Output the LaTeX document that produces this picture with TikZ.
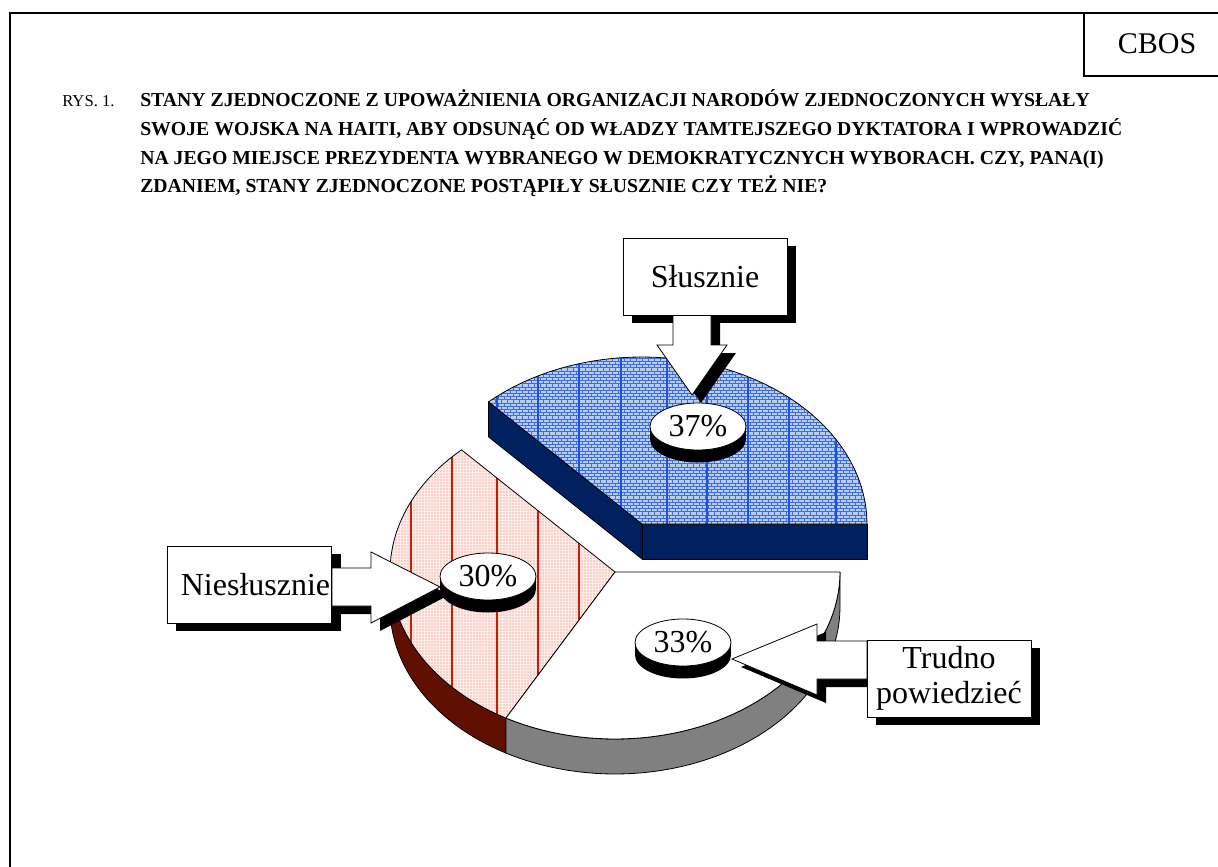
\documentclass[tikz,border=0pt]{standalone}
\usepackage{fontspec}
\setmainfont{Liberation Serif}
\usetikzlibrary{patterns,shapes.geometric}

\definecolor{navyside}{RGB}{0,32,96}
\definecolor{maroonside}{RGB}{96,16,0}
\definecolor{greyside}{RGB}{128,128,128}
\definecolor{bluetop}{RGB}{185,205,242}
\definecolor{bluebrick}{RGB}{60,110,225}
\definecolor{bluerule}{RGB}{30,80,230}
\definecolor{pinktop}{RGB}{253,236,232}
\definecolor{pinkdot}{RGB}{238,115,105}
\definecolor{redrule}{RGB}{200,30,0}

\pgfdeclarepatternformonly{tinybricks}{\pgfqpoint{-0.5pt}{-0.5pt}}{\pgfqpoint{5pt}{5.3pt}}{\pgfqpoint{4.5pt}{4.8pt}}{
  \pgfsetlinewidth{0.7pt}
  \pgfpathmoveto{\pgfqpoint{0pt}{0pt}}\pgfpathlineto{\pgfqpoint{4.5pt}{0pt}}
  \pgfpathmoveto{\pgfqpoint{0pt}{2.4pt}}\pgfpathlineto{\pgfqpoint{4.5pt}{2.4pt}}
  \pgfpathmoveto{\pgfqpoint{0pt}{0pt}}\pgfpathlineto{\pgfqpoint{0pt}{2.4pt}}
  \pgfpathmoveto{\pgfqpoint{2.25pt}{2.4pt}}\pgfpathlineto{\pgfqpoint{2.25pt}{4.8pt}}
  \pgfusepath{stroke}}
\pgfdeclarepatternformonly{tinydots}{\pgfqpoint{-0.5pt}{-0.5pt}}{\pgfqpoint{2.8pt}{2.8pt}}{\pgfqpoint{2.25pt}{2.25pt}}{
  \pgfpathcircle{\pgfqpoint{0pt}{0pt}}{0.4pt}
  \pgfusepath{fill}}

\begin{document}
\begin{tikzpicture}[x=0.75pt, y=-0.75pt, variable=\t, samples=50,
  rim/.style={line width=0.6pt},
  dropshade/.style={fill=black, shift={(9,8)}},
  labelbox/.style={draw, fill=white, line width=0.6pt, minimum width=123pt, minimum height=57.75pt, inner sep=0pt, align=center, font=\fontsize{24}{26.25}\selectfont},
  disc/.style={ellipse, draw, fill=white, line width=0.6pt, minimum width=72pt, minimum height=35.25pt, inner sep=0pt, font=\fontsize{24}{26}\selectfont},
  question/.style={anchor=base west, inner sep=0pt, font=\fontsize{14.8}{17}\selectfont\bfseries}]
\useasboundingbox (0,0) rectangle (1218,867);
\fill[white] (0,0) rectangle (1218,867);

% frame and CBOS box
\draw[line width=1.5pt] (10,867) -- (10,13) -- (1218,13);
\draw[line width=1.5pt] (1084,13) -- (1084,76) -- (1218,76);
\node[font=\fontsize{22.5}{26}\selectfont] (cbos) at (1157,44) {CBOS};

% title
\node[anchor=base west, inner sep=0pt, font=\fontsize{12.5}{15}\selectfont] (rys) at (62,107) {RYS. 1.};
\foreach \txt [count=\i] in {{STANY ZJEDNOCZONE Z UPOWAŻNIENIA ORGANIZACJI NARODÓW ZJEDNOCZONYCH WYSŁAŁY},
  {SWOJE WOJSKA NA HAITI, ABY ODSUNĄĆ OD WŁADZY TAMTEJSZEGO DYKTATORA I WPROWADZIĆ},
  {NA JEGO MIEJSCE PREZYDENTA WYBRANEGO W DEMOKRATYCZNYCH WYBORACH. CZY, PANA(I)},
  {ZDANIEM, STANY ZJEDNOCZONE POSTĄPIŁY SŁUSZNIE CZY TEŻ NIE?}}
  \node[question] (q\i) at (140,{107+28.5*(\i-1)}) {\txt};

% pie: sides
\filldraw[rim, fill=maroonside] plot[domain=180:241] ({615+225*cos(\t)},{572-167*sin(\t)})
  -- plot[domain=241:180] ({615+225*cos(\t)},{607-167*sin(\t)}) -- cycle;
\filldraw[rim, fill=greyside] plot[domain=241:360] ({615+225*cos(\t)},{572-167*sin(\t)})
  -- plot[domain=360:241] ({615+225*cos(\t)},{607-167*sin(\t)}) -- cycle;

% pie: Niesłusznie
\filldraw[rim, pattern=tinydots, pattern color=pinkdot, preaction={fill=pinktop},
  path picture={\foreach \x in {411,452,497,538,579} \draw[redrule, line width=0.8pt] (\x,380) -- (\x,760);}]
  (615,572) -- plot[domain=133:241] ({615+225*cos(\t)},{572-167*sin(\t)}) -- cycle;

% pie: Trudno powiedzieć
\filldraw[rim, fill=white] (615,572) -- plot[domain=241:360] ({615+225*cos(\t)},{572-167*sin(\t)}) -- cycle;

% pie: Słusznie (pulled out)
\filldraw[rim, fill=navyside] (642,524) rectangle (867,559);
\filldraw[rim, fill=navyside] ({642+225*cos(133)},{524-167*sin(133)}) -- (642,524) -- (642,559)
  -- ({642+225*cos(133)},{559-167*sin(133)}) -- cycle;
\filldraw[rim, pattern=tinybricks, pattern color=bluebrick, preaction={fill=bluetop},
  path picture={\foreach \x in {497,538,579,621,667,707,748,789,836} \draw[bluerule, line width=0.8pt] (\x,340) -- (\x,530);}]
  (642,524) -- plot[domain=0:133] ({642+225*cos(\t)},{524-167*sin(\t)}) -- cycle;

% shadows of the callouts
\fill[dropshade] (623,238) rectangle (787,315);
\fill[dropshade] (167,546) rectangle (332,623);
\fill[dropshade] (867,640) rectangle (1031,717);
\fill[dropshade] (673,315) -- (673,345) -- (657,345) -- (692,395) -- (727,345) -- (711,345) -- (711,315) -- cycle;
\fill[dropshade] (332,568) -- (371,568) -- (371,552) -- (440,587) -- (371,623) -- (371,606) -- (332,606) -- cycle;
\fill[dropshade] (867,641) -- (817,641) -- (817,624) -- (732,659) -- (817,695) -- (817,679) -- (867,679) -- cycle;

% block arrows
\filldraw[rim, fill=white] (673,315) -- (673,345) -- (657,345) -- (692,395) -- (727,345) -- (711,345) -- (711,315) -- cycle;
\filldraw[rim, fill=white] (332,568) -- (371,568) -- (371,552) -- (440,587) -- (371,623) -- (371,606) -- (332,606) -- cycle;
\filldraw[rim, fill=white] (867,641) -- (817,641) -- (817,624) -- (732,659) -- (817,695) -- (817,679) -- (867,679) -- cycle;

% callout boxes
\node[labelbox] (slu) at (705,276.5) {Słusznie};
\node[labelbox, text width=121pt, align=right] (nie) at (249.5,584.5) {Niesłusznie};
\node[labelbox] (tru) at (949,678.5) {Trudno\\powiedzieć};

% percentage discs
\foreach \cx/\cy/\v in {698/426.5/37, 488/576.5/30, 683/642.5/33} {
  \fill (\cx-48,\cy) rectangle (\cx+48,\cy+12.5);
  \fill (\cx,\cy+12.5) ellipse [x radius=48, y radius=23.5];
  \node[disc] (p\v) at (\cx,\cy) {\v\%};
}
\end{tikzpicture}
\end{document}
